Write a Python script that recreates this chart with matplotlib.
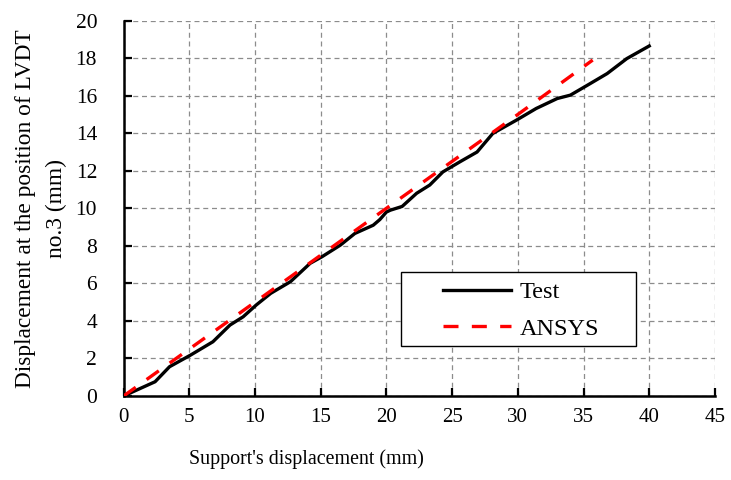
import matplotlib
matplotlib.use('Agg')
import matplotlib.pyplot as plt
from matplotlib.patches import Rectangle

plt.rcParams['font.family'] = ['Liberation Serif', 'DejaVu Serif']

# Test curve (black)
test_x = [0, 2.4, 3.5, 5.1, 6.8, 8.1, 9.1, 10.1, 11.2, 12.7, 14.2, 15.1, 16.5, 17.6,
          19.0, 19.5, 20.0, 20.3, 21.2, 22.3, 23.3, 24.3, 25.6, 26.9, 28.1, 29.9,
          31.4, 33.0, 34.0, 35.3, 36.8, 38.3, 40.0]
test_y = [0, 0.76, 1.56, 2.18, 2.89, 3.78, 4.22, 4.85, 5.47, 6.09, 7.07, 7.42, 8.04, 8.66,
          9.1, 9.4, 9.8, 9.9, 10.1, 10.8, 11.24, 11.94, 12.48, 13.0, 13.99, 14.7,
          15.32, 15.85, 16.03, 16.56, 17.18, 17.98, 18.65]

# ANSYS curve (red dashed)
ansys_x = [0, 5, 10, 15, 20, 25, 30, 35.7]
ansys_y = [0, 2.5, 5.0, 7.5, 10.0, 12.5, 15.0, 17.9]

xticks = list(range(0, 46, 5))
yticks = list(range(0, 21, 2))

fig = plt.figure(figsize=(7.31, 4.8), dpi=100)
ax = fig.add_axes([0.169, 0.175, 0.809, 0.782])

ax.plot(test_x, test_y, color='black', lw=2.4, label='Test', zorder=3,
        solid_joinstyle='round')
ax.plot(ansys_x, ansys_y, color='red', lw=2.4, ls=(0, (4.5, 4)),
        dash_capstyle='butt', label='ANSYS', zorder=4)

ax.set_xlim(0, 45)
ax.set_ylim(0, 20)
ax.set_xticks(xticks)
ax.set_yticks(yticks)
ax.grid(True, color='#8c8c8c', lw=0.9, ls=(0, (4, 3)))
ax.set_axisbelow(True)
for s in ['top', 'right']:
    ax.spines[s].set_visible(False)
for s in ['left', 'bottom']:
    ax.spines[s].set_linewidth(1.8)
ax.tick_params(axis='both', direction='in', length=5.5, width=1.6)
ax.tick_params(axis='y', pad=19, labelsize=15.5)
ax.tick_params(axis='x', pad=9, labelsize=15)

ax.set_xlabel("Support's displacement (mm)", fontsize=14.4, va='center')
ax.xaxis.set_label_coords(0.31, -0.168)
ax.set_ylabel("Displacement at the position of LVDT\nno.3 (mm)", fontsize=16.8,
              va='center', linespacing=1.57)
ax.yaxis.set_label_coords(-0.1395, 0.5)

# legend box
ax.add_patch(Rectangle((0.4686, 0.134), 0.398, 0.197, transform=ax.transAxes,
                       facecolor='white', edgecolor='black', lw=1.0, zorder=5))
leg = ax.legend(loc='center left', bbox_to_anchor=(0.54, 0.228), frameon=False,
                fontsize=17.5, handlelength=2.8, handletextpad=0.35,
                labelspacing=0.6, borderpad=0, borderaxespad=0)
leg.set_zorder(6)

fig.savefig('out.png', dpi=100)
